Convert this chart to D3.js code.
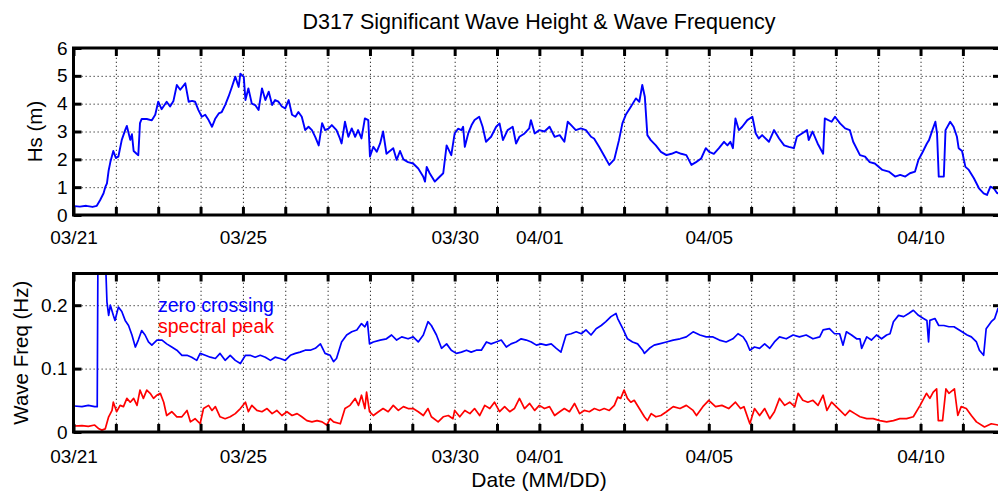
<!DOCTYPE html>
<html>
<head>
<meta charset="utf-8">
<script src="https://cdn.jsdelivr.net/npm/d3@7"></script>
<style>
  html, body { margin: 0; padding: 0; background: #fff; }
  svg { display: block; }
  text { font-family: "Liberation Sans", Arial, Helvetica, sans-serif; }
</style>
</head>
<body>
<svg id="chart" width="998" height="491"></svg>
<script>
// ---- DATA (days since 03/21 00:00) ----
const titleText = "D317 Significant Wave Height & Wave Frequency";
const xTickLabels = ["03/21", "03/25", "03/30", "04/01", "04/05", "04/10"];
const hsTicks = [0, 1, 2, 3, 4, 5, 6];
const freqTicks = [0, 0.1, 0.2];

const hsDays = [0.02,0.15,0.3,0.45,0.55,0.63,0.71,0.75,0.79,0.83,0.87,0.94,1.0,1.06,1.14,1.22,1.26,1.34,1.38,1.42,1.49,1.53,1.57,1.61,1.73,1.85,1.93,2.0,2.08,2.2,2.28,2.36,2.44,2.52,2.64,2.72,2.8,2.87,2.95,3.03,3.11,3.19,3.27,3.35,3.43,3.5,3.58,3.66,3.74,3.82,3.9,3.94,4.02,4.06,4.13,4.21,4.29,4.37,4.45,4.53,4.61,4.69,4.76,4.84,4.92,5.0,5.08,5.16,5.24,5.31,5.39,5.47,5.55,5.63,5.71,5.79,5.87,5.94,6.02,
6.1,6.21,6.29,6.33,6.41,6.49,6.57,6.65,6.72,6.8,6.88,6.96,7.0,7.08,7.16,7.24,7.31,7.39,7.47,7.55,7.63,7.71,7.79,7.9,8.02,8.14,8.26,8.3,8.34,8.41,8.53,8.61,8.73,8.81,8.92,9.0,9.08,9.16,9.2,9.24,9.32,9.4,9.47,9.58,9.66,9.74,9.86,9.98,10.06,10.14,10.25,10.37,10.45,10.53,10.65,10.76,10.8,10.89,11.0,11.12,11.24,11.36,11.48,11.59,11.67,11.75,11.86,11.98,12.1,12.22,12.29,12.41,12.54,12.65,12.77,12.88,12.96,13.04,13.16,13.28,13.36,13.43,13.49,13.55,13.63,13.75,13.87,
14.0,14.12,14.23,14.35,14.47,14.59,14.7,14.82,14.93,15.01,15.12,15.24,15.36,15.44,15.51,15.57,15.63,15.71,15.79,15.91,16.03,16.11,16.18,16.26,16.42,16.54,16.66,16.78,16.89,17.01,17.08,17.2,17.32,17.36,17.45,17.57,17.7,17.74,17.9,17.98,18.1,18.22,18.33,18.41,18.57,18.69,18.8,18.92,19.1,19.25,19.4,19.52,19.64,19.75,19.87,19.95,20.03,20.15,20.2,20.28,20.35,20.39,20.43,20.55,20.59,20.7,20.78,20.86,20.9,20.98,21.06,21.14,21.26,21.38,21.49,21.57,21.65,21.73,21.81,21.9];
const hsValues = [0.32,0.3,0.33,0.29,0.33,0.54,0.78,1.0,1.14,1.6,1.9,2.3,2.05,2.1,2.7,3.05,3.2,2.7,2.9,2.3,2.2,2.15,3.3,3.45,3.45,3.4,3.6,4.07,3.8,4.07,3.9,4.1,4.67,4.5,4.73,4.07,4.1,4.07,3.77,3.53,3.6,3.41,3.17,3.47,3.65,3.7,3.95,4.25,4.6,4.97,4.6,5.08,4.97,4.13,4.55,4.0,3.95,3.77,4.55,4.13,4.43,3.95,4.13,4.07,3.9,3.83,4.13,3.6,3.53,3.7,3.53,3.05,3.17,3.05,2.8,2.5,3.3,3.05,3.1,
3.23,3.05,2.75,2.57,3.35,2.81,3.11,2.81,3.05,2.75,3.47,3.41,2.1,2.45,2.27,2.57,3.0,2.2,2.3,2.4,1.98,2.3,2.0,1.9,1.85,1.67,1.37,1.2,1.73,1.5,1.2,1.32,1.5,2.5,2.15,2.93,3.1,3.05,3.17,2.45,2.93,3.23,3.41,3.53,3.17,2.63,2.81,3.17,3.29,2.69,3.05,3.17,2.57,2.81,2.93,3.11,3.41,2.93,3.05,3.0,3.17,2.81,2.87,2.63,3.35,3.23,3.05,3.11,3.05,2.81,2.75,2.45,2.1,1.8,2.0,2.69,3.29,3.6,3.89,4.19,4.07,4.67,4.25,2.87,2.69,2.5,2.27,
2.15,2.2,2.27,2.2,2.15,1.8,1.9,2.03,2.4,2.27,2.2,2.4,2.63,2.5,2.63,2.4,3.47,3.05,3.17,3.41,3.53,2.93,2.75,2.87,2.63,3.05,2.75,2.5,2.45,2.4,2.81,2.93,3.05,2.69,3.0,2.57,2.2,3.47,3.35,3.53,3.29,3.11,3.05,2.63,2.15,2.1,1.9,1.85,1.62,1.56,1.38,1.44,1.38,1.5,1.56,1.98,2.2,2.57,2.69,3.05,3.35,2.93,1.38,1.38,3.05,3.35,3.17,2.81,2.4,2.3,1.73,1.62,1.32,0.96,0.78,0.72,1.02,0.96,0.78,0.84];

const zcDays = [0.02,0.2,0.35,0.5,0.56,0.58,0.74,0.79,0.83,0.87,0.94,0.98,1.06,1.14,1.22,1.3,1.38,1.46,1.53,1.61,1.69,1.77,1.85,1.97,2.09,2.2,2.32,2.44,2.56,2.68,2.79,2.91,2.99,3.11,3.23,3.35,3.46,3.58,3.7,3.82,3.94,4.06,4.17,4.29,4.41,4.53,4.65,4.76,4.88,5.0,5.12,5.24,5.35,5.47,5.59,5.71,5.83,5.94,6.06,
6.14,6.21,6.33,6.45,6.57,6.69,6.8,6.88,6.94,6.99,7.08,7.24,7.39,7.51,7.63,7.75,7.9,8.02,8.14,8.26,8.37,8.45,8.57,8.69,8.81,8.92,9.04,9.16,9.28,9.39,9.51,9.63,9.75,9.86,9.98,10.1,10.22,10.33,10.45,10.57,10.69,10.81,10.93,11.04,11.16,11.28,11.4,11.51,11.63,11.75,11.87,11.99,12.1,12.22,12.34,12.46,12.57,12.69,12.81,12.85,12.97,13.08,13.2,13.32,13.44,13.48,13.6,13.71,13.83,
14.0,14.16,14.32,14.47,14.63,14.79,14.94,15.1,15.25,15.41,15.57,15.69,15.81,15.89,15.97,16.08,16.2,16.32,16.44,16.55,16.67,16.83,16.99,17.14,17.3,17.46,17.62,17.7,17.85,17.97,18.09,18.17,18.25,18.37,18.49,18.57,18.61,18.73,18.84,18.96,19.08,19.2,19.28,19.36,19.48,19.6,19.72,19.83,19.95,20.07,20.15,20.19,20.22,20.34,20.43,20.55,20.67,20.79,20.98,21.1,21.2,21.32,21.39,21.49,21.55,21.67,21.75,21.83,21.9];
const zcValues = [0.041,0.04,0.042,0.04,0.04,0.32,0.3,0.205,0.184,0.2,0.184,0.176,0.197,0.19,0.176,0.168,0.153,0.134,0.145,0.16,0.153,0.142,0.137,0.145,0.145,0.139,0.134,0.129,0.121,0.121,0.118,0.113,0.124,0.121,0.118,0.116,0.124,0.113,0.121,0.113,0.108,0.121,0.121,0.118,0.121,0.118,0.113,0.118,0.116,0.113,0.121,0.124,0.126,0.129,0.129,0.132,0.139,0.124,0.121,
0.111,0.116,0.142,0.153,0.158,0.161,0.171,0.166,0.174,0.139,0.142,0.145,0.147,0.153,0.145,0.15,0.147,0.15,0.142,0.153,0.174,0.168,0.153,0.132,0.139,0.129,0.124,0.126,0.129,0.126,0.129,0.129,0.142,0.139,0.142,0.145,0.134,0.139,0.142,0.147,0.145,0.142,0.137,0.139,0.137,0.139,0.132,0.126,0.153,0.155,0.158,0.155,0.161,0.153,0.163,0.168,0.174,0.182,0.187,0.179,0.163,0.147,0.142,0.139,0.129,0.124,0.132,0.137,0.139,
0.142,0.145,0.147,0.15,0.158,0.153,0.15,0.15,0.145,0.142,0.147,0.155,0.15,0.142,0.129,0.134,0.132,0.139,0.132,0.142,0.15,0.147,0.153,0.15,0.153,0.147,0.15,0.161,0.163,0.155,0.155,0.137,0.158,0.153,0.147,0.147,0.132,0.15,0.145,0.153,0.147,0.153,0.155,0.174,0.184,0.182,0.187,0.192,0.184,0.179,0.176,0.142,0.176,0.179,0.168,0.168,0.166,0.166,0.158,0.153,0.15,0.142,0.129,0.121,0.163,0.174,0.179,0.195,0.182];

const spDays = [0.02,0.2,0.35,0.5,0.6,0.67,0.75,0.83,0.91,0.94,1.02,1.1,1.18,1.26,1.34,1.42,1.5,1.57,1.65,1.73,1.81,1.89,1.97,2.05,2.13,2.2,2.32,2.44,2.56,2.68,2.76,2.87,2.99,3.07,3.19,3.27,3.35,3.46,3.58,3.7,3.82,3.94,4.06,4.13,4.21,4.33,4.45,4.57,4.69,4.8,4.92,5.04,5.16,5.28,5.39,5.51,5.63,5.75,5.87,5.98,6.06,
6.14,6.3,6.41,6.53,6.65,6.73,6.8,6.88,6.92,6.99,7.08,7.2,7.31,7.43,7.55,7.67,7.79,7.9,8.02,8.14,8.26,8.37,8.45,8.61,8.73,8.85,8.96,9.0,9.12,9.24,9.36,9.47,9.59,9.71,9.83,9.94,10.06,10.18,10.3,10.41,10.53,10.65,10.77,10.89,11.0,11.12,11.24,11.36,11.48,11.59,11.71,11.83,11.95,12.06,12.18,12.3,12.42,12.53,12.65,12.77,12.85,12.92,13.0,13.08,13.16,13.24,13.36,13.48,13.55,13.64,13.75,13.87,
14.0,14.16,14.32,14.47,14.63,14.71,14.86,15.0,15.16,15.31,15.47,15.63,15.75,15.83,15.97,16.08,16.2,16.32,16.44,16.55,16.67,16.79,16.91,17.03,17.11,17.22,17.34,17.46,17.58,17.7,17.79,17.9,18.1,18.22,18.33,18.45,18.57,18.73,18.88,19.04,19.2,19.36,19.51,19.67,19.83,19.99,20.14,20.22,20.3,20.38,20.42,20.52,20.6,20.67,20.8,20.88,20.96,21.08,21.2,21.32,21.51,21.67,21.83,21.9];
const spValues = [0.0095,0.01,0.009,0.011,0.005,0.003,0.005,0.024,0.034,0.047,0.032,0.042,0.04,0.053,0.047,0.053,0.042,0.066,0.053,0.066,0.061,0.053,0.058,0.061,0.047,0.026,0.032,0.024,0.024,0.034,0.016,0.021,0.013,0.037,0.042,0.034,0.04,0.024,0.021,0.024,0.029,0.037,0.047,0.032,0.042,0.034,0.032,0.037,0.029,0.034,0.026,0.032,0.026,0.029,0.024,0.018,0.016,0.018,0.016,0.011,0.021,
0.016,0.013,0.037,0.042,0.053,0.042,0.058,0.037,0.063,0.032,0.026,0.032,0.037,0.032,0.042,0.034,0.04,0.037,0.037,0.032,0.026,0.037,0.024,0.016,0.024,0.026,0.021,0.034,0.024,0.034,0.029,0.037,0.026,0.042,0.037,0.047,0.032,0.04,0.032,0.037,0.053,0.037,0.045,0.034,0.042,0.037,0.04,0.026,0.032,0.037,0.032,0.045,0.029,0.034,0.032,0.037,0.034,0.037,0.034,0.042,0.055,0.053,0.066,0.053,0.047,0.05,0.037,0.024,0.018,0.029,0.024,0.026,
0.032,0.04,0.037,0.042,0.034,0.026,0.04,0.05,0.04,0.042,0.037,0.047,0.037,0.04,0.013,0.037,0.026,0.037,0.021,0.032,0.053,0.042,0.047,0.04,0.061,0.05,0.047,0.05,0.042,0.058,0.034,0.047,0.034,0.026,0.034,0.029,0.024,0.021,0.021,0.018,0.016,0.018,0.021,0.021,0.024,0.042,0.061,0.053,0.063,0.068,0.018,0.018,0.068,0.061,0.068,0.026,0.04,0.037,0.026,0.016,0.008,0.013,0.011,0.008];

// ---- LAYOUT ----
const left = 73.5, right = 1001;
const top1 = 48, bot1 = 215;
const top2 = 273.5, bot2 = 432;
const DAY = 86400000;
const t0 = Date.UTC(2013, 2, 21);
const toDate = d => new Date(t0 + d * DAY);
const tEnd = toDate(21.9);

const svg = d3.select("#chart");

const x = d3.scaleUtc().domain([toDate(0), tEnd]).range([left, right]);
const dayTicks = d3.utcDay.range(toDate(0), tEnd);
const fmt = d3.utcFormat("%m/%d");
const labelFmt = d => xTickLabels.includes(fmt(d)) ? fmt(d) : "";

const yHs = d3.scaleLinear().domain([0, 6]).range([bot1, top1]);
const yF = d3.scaleLinear().domain([0, 0.25]).range([bot2, top2]);

// title
svg.append("text").attr("x", 539).attr("y", 29).attr("text-anchor", "middle")
  .style("font-size", "21.5px").style("fill", "#000").text(titleText);

function panel(y, yTop, yBot, yTicks, clipId) {
  const g = svg.append("g");
  g.append("clipPath").attr("id", clipId).append("rect")
    .attr("x", left).attr("y", yTop).attr("width", right - left).attr("height", yBot - yTop);
  const gridStyle = s => {
    s.select(".domain").remove();
    s.selectAll("line").attr("stroke", "#333").attr("stroke-width", 1).attr("stroke-dasharray", "1.3,2.7");
  };
  g.append("g").attr("transform", `translate(0,${yBot})`)
    .call(d3.axisBottom(x).tickValues(dayTicks).tickSize(-(yBot - yTop)).tickFormat(""))
    .call(gridStyle);
  g.append("g").attr("transform", `translate(${left},0)`)
    .call(d3.axisLeft(y).tickValues(yTicks).tickSize(-(right - left)).tickFormat(""))
    .call(gridStyle);
  return g;
}

function frame(g, y, yTop, yBot, yTicks, yFmt, tickPad) {
  const styleTicks = s => {
    s.select(".domain").remove();
    s.selectAll("line").attr("stroke", "#000").attr("stroke-width", 3);
    s.selectAll("text").style("font-size", "19px").style("fill", "#000");
  };
  g.append("g").attr("transform", `translate(0,${yBot})`)
    .call(d3.axisBottom(x).tickValues(dayTicks).tickSize(-8).tickPadding(tickPad).tickFormat(labelFmt))
    .call(styleTicks);
  g.append("g").attr("transform", `translate(0,${yTop})`)
    .call(d3.axisTop(x).tickValues(dayTicks).tickSize(-8).tickFormat(""))
    .call(styleTicks);
  g.append("g").attr("transform", `translate(${left},0)`)
    .call(d3.axisLeft(y).tickValues(yTicks).tickSize(-8).tickPadding(6).tickFormat(yFmt))
    .call(styleTicks);
  g.append("g").attr("transform", `translate(${right},0)`)
    .call(d3.axisRight(y).tickValues(yTicks).tickSize(-8).tickFormat(""))
    .call(styleTicks);
  g.append("rect").attr("x", left).attr("y", yTop).attr("width", right - left).attr("height", yBot - yTop)
    .attr("fill", "none").attr("stroke", "#000").attr("stroke-width", 3);
}

const fFmt = d => d === 0 ? "0" : d3.format(".1f")(d);

// ---- Top panel ----
const g1 = panel(yHs, top1, bot1, hsTicks, "clip1");
const lineHs = d3.line().x((d, i) => x(toDate(hsDays[i]))).y(d => yHs(d));
g1.append("path").datum(hsValues).attr("d", lineHs).attr("clip-path", "url(#clip1)")
  .attr("fill", "none").attr("stroke", "#0000ff").attr("stroke-width", 1.9).attr("stroke-linejoin", "round");
frame(g1, yHs, top1, bot1, hsTicks, d3.format("d"), 16);

svg.append("text").attr("transform", `translate(35,${(top1 + bot1) / 2}) rotate(-90)`)
  .attr("text-anchor", "middle").attr("dy", "0.35em").style("font-size", "20.5px").style("fill", "#000").text("Hs (m)");

// ---- Bottom panel ----
const g2 = panel(yF, top2, bot2, freqTicks, "clip2");
const lineZc = d3.line().x((d, i) => x(toDate(zcDays[i]))).y(d => yF(d));
const lineSp = d3.line().x((d, i) => x(toDate(spDays[i]))).y(d => yF(d));
g2.append("path").datum(zcValues).attr("d", lineZc).attr("clip-path", "url(#clip2)")
  .attr("fill", "none").attr("stroke", "#0000ff").attr("stroke-width", 1.7).attr("stroke-linejoin", "round");
g2.append("path").datum(spValues).attr("d", lineSp).attr("clip-path", "url(#clip2)")
  .attr("fill", "none").attr("stroke", "#ff0000").attr("stroke-width", 1.7).attr("stroke-linejoin", "round");
frame(g2, yF, top2, bot2, freqTicks, fFmt, 18);

svg.append("text").attr("transform", `translate(21,${(top2 + bot2) / 2}) rotate(-90)`)
  .attr("text-anchor", "middle").attr("dy", "0.35em").style("font-size", "20.5px").style("fill", "#000").text("Wave Freq (Hz)");

svg.append("text").attr("x", 158).attr("y", 312).style("font-size", "19.5px").style("fill", "#0000ff").text("zero crossing");
svg.append("text").attr("x", 158).attr("y", 333).style("font-size", "19.5px").style("fill", "#ff0000").text("spectral peak");

svg.append("text").attr("x", 539).attr("y", 487).attr("text-anchor", "middle")
  .style("font-size", "21px").style("fill", "#000").text("Date (MM/DD)");
</script>
</body>
</html>
